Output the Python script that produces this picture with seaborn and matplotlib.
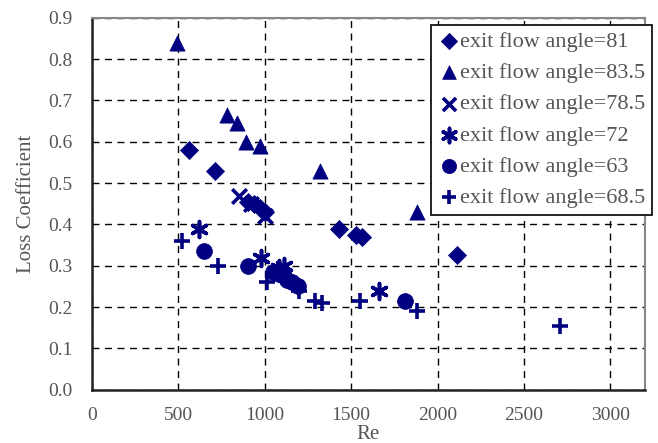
import numpy as np
import pandas as pd
import matplotlib
matplotlib.use("Agg")
import matplotlib.pyplot as plt
import seaborn as sns

# data
re_81 = [560, 710, 900, 940, 970, 1000, 1430, 1530, 1560, 2110]
loss_81 = [0.58, 0.53, 0.455, 0.45, 0.44, 0.43, 0.39, 0.375, 0.37, 0.325]

re_835 = [490, 780, 840, 890, 970, 1320, 1880]
loss_835 = [0.84, 0.665, 0.645, 0.60, 0.59, 0.53, 0.43]

re_785 = [850, 920, 1000]
loss_785 = [0.47, 0.45, 0.42]

re_72 = [620, 980, 1080, 1110, 1660]
loss_72 = [0.39, 0.32, 0.295, 0.30, 0.24]

re_63 = [650, 900, 1050, 1080, 1110, 1130, 1160, 1190, 1810]
loss_63 = [0.335, 0.30, 0.285, 0.28, 0.275, 0.265, 0.26, 0.25, 0.215]

re_685 = [520, 730, 1010, 1060, 1200, 1290, 1330, 1550, 1880, 2710]
loss_685 = [0.36, 0.30, 0.26, 0.285, 0.24, 0.215, 0.21, 0.215, 0.19, 0.155]

labels = ["exit flow angle=81", "exit flow angle=83.5", "exit flow angle=78.5",
          "exit flow angle=72", "exit flow angle=63", "exit flow angle=68.5"]

series = [(re_81, loss_81), (re_835, loss_835), (re_785, loss_785),
          (re_72, loss_72), (re_63, loss_63), (re_685, loss_685)]

markers = ["D", "^", "x", (6, 2, 0), "o", "+"]
sizes = [85, 120, 110, 130, 130, 140]

sns.set_style("white")
plt.rcParams["font.family"] = ["Liberation Serif", "DejaVu Serif"]

fig = plt.figure(figsize=(6.58, 4.43), dpi=100)
ax = fig.add_axes([0.14, 0.12, 0.84, 0.84])

navy = "#000080"
for (x, y), lab, m, s in zip(series, labels, markers, sizes):
    df = pd.DataFrame({"Re": x, "Loss": y})
    if m in ["x", "+", (6, 2, 0)]:
        sns.scatterplot(data=df, x="Re", y="Loss", ax=ax, marker=m, s=s,
                        color=navy, linewidth=2.6, label=lab)
    else:
        sns.scatterplot(data=df, x="Re", y="Loss", ax=ax, marker=m, s=s,
                        color=navy, edgecolor=navy, linewidth=0.5, label=lab)

ax.set_xlim(0, 3200)
ax.set_ylim(0, 0.9)
ax.set_xticks(np.arange(0, 3001, 500))
ax.set_yticks(np.arange(0, 0.91, 0.1))
ax.set_yticklabels([f"{v:.1f}" for v in np.arange(0, 0.91, 0.1)])
ax.grid(True, linestyle=(0, (5, 4)), color="black", linewidth=1.0)
ax.set_axisbelow(True)

ax.tick_params(axis="both", direction="out", length=6, width=1.2,
               colors="#333333", labelsize=14, labelcolor="#555555")
ax.tick_params(axis="x", pad=6)
ax.tick_params(axis="y", pad=8)
ax.set_xlabel("Re", fontsize=15, color="#555555", labelpad=1)
ax.set_ylabel("Loss Coefficient", fontsize=15, color="#555555", labelpad=9)

for side in ["left", "bottom"]:
    ax.spines[side].set_color("#222222")
    ax.spines[side].set_linewidth(1.8)
for side in ["top", "right"]:
    ax.spines[side].set_color("#888888")
    ax.spines[side].set_linewidth(1.5)

leg = ax.legend(loc="upper right", bbox_to_anchor=(0.991, 0.944),
                bbox_transform=fig.transFigure, frameon=True, fancybox=False,
                edgecolor="black", fontsize=16, handletextpad=0.0,
                handlelength=1.0, labelspacing=0.48, borderpad=0.3,
                borderaxespad=0.0, markerscale=0.9)
leg.get_frame().set_linewidth(1.2)
leg.get_frame().set_alpha(1.0)
for t in leg.get_texts():
    t.set_color("#555555")

fig.savefig("out.png", dpi=100)
